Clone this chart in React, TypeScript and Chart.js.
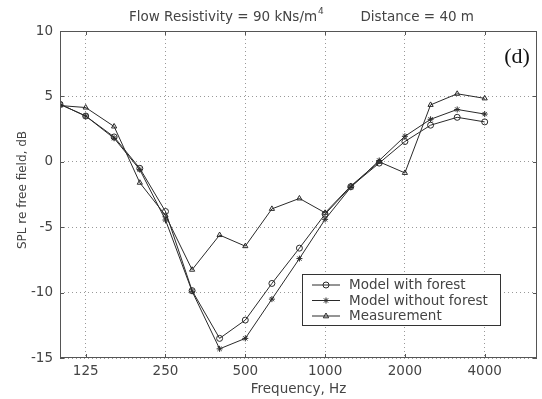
import React, { useEffect, useRef } from 'react';
import { Chart, registerables } from 'chart.js';

Chart.register(...registerables);

// ---- data ----
const frequencies = [100, 125, 160, 200, 250, 315, 400, 500, 630, 800, 1000, 1250, 1600, 2000, 2500, 3150, 4000];
const modelWithForest = [4.4, 3.5, 1.9, -0.5, -3.8, -9.85, -13.5, -12.1, -9.3, -6.6, -4.0, -1.9, -0.1, 1.55, 2.8, 3.4, 3.05];
const modelWithoutForest = [4.4, 3.5, 1.8, -0.6, -4.45, -9.9, -14.3, -13.5, -10.5, -7.4, -4.4, -1.95, 0.1, 1.95, 3.25, 4.0, 3.65];
const measurement = [4.3, 4.15, 2.7, -1.6, -4.1, -8.25, -5.6, -6.45, -3.6, -2.8, -3.9, -1.85, 0.0, -0.85, 4.35, 5.2, 4.85];
const xTicks = [125, 250, 500, 1000, 2000, 4000];
const yTicks = [-15, -10, -5, 0, 5, 10];
const seriesNames = ['Model with forest', 'Model without forest', 'Measurement'];
const markerStyles = ['circle', 'star', 'triangle'];
const titleMain = 'Flow Resistivity = 90 kNs/m';
const titleSup = '4';
const titleSecond = 'Distance = 40 m';
const xLabel = 'Frequency, Hz';
const yLabel = 'SPL re free field, dB';
const panelLabel = '(d)';

const FONT = '"DejaVu Sans", sans-serif';
const LINE = '#2a2a2a';
const TEXT = '#444';

function drawMarker(ctx: CanvasRenderingContext2D, style: string, x: number, y: number, r: number) {
  ctx.beginPath();
  if (style === 'circle') {
    ctx.arc(x, y, r, 0, Math.PI * 2);
    ctx.stroke();
  } else if (style === 'triangle') {
    ctx.moveTo(x, y - r);
    ctx.lineTo(x + r * 0.9, y + r * 0.6);
    ctx.lineTo(x - r * 0.9, y + r * 0.6);
    ctx.closePath();
    ctx.stroke();
  } else {
    for (let i = 0; i < 4; i++) {
      const ang = (i * Math.PI) / 4;
      ctx.moveTo(x - Math.cos(ang) * r, y - Math.sin(ang) * r);
      ctx.lineTo(x + Math.cos(ang) * r, y + Math.sin(ang) * r);
    }
    ctx.stroke();
  }
}

const decorPlugin = {
  id: 'decor',
  afterDraw(chart: any) {
    const { ctx, chartArea: a, scales } = chart;
    const xs = scales.x;
    const ys = scales.y;
    ctx.save();
    // axes box
    ctx.strokeStyle = '#555';
    ctx.lineWidth = 1;
    ctx.strokeRect(a.left + 0.5, a.top + 0.5, a.right - a.left - 1, a.bottom - a.top - 1);
    // inside tick marks
    ctx.beginPath();
    xTicks.forEach((v) => {
      const px = Math.round(xs.getPixelForValue(v)) + 0.5;
      ctx.moveTo(px, a.bottom);
      ctx.lineTo(px, a.bottom - 4);
      ctx.moveTo(px, a.top);
      ctx.lineTo(px, a.top + 4);
    });
    yTicks.forEach((v) => {
      const py = Math.round(ys.getPixelForValue(v)) + 0.5;
      ctx.moveTo(a.left, py);
      ctx.lineTo(a.left + 4, py);
      ctx.moveTo(a.right, py);
      ctx.lineTo(a.right - 4, py);
    });
    ctx.stroke();

    // title
    ctx.fillStyle = TEXT;
    ctx.textBaseline = 'middle';
    ctx.textAlign = 'left';
    ctx.font = `13.5px ${FONT}`;
    ctx.fillText(titleMain, 129, 17);
    const w = ctx.measureText(titleMain).width;
    ctx.font = `9px ${FONT}`;
    ctx.fillText(titleSup, 129 + w + 1, 12);
    ctx.font = `13.5px ${FONT}`;
    ctx.textAlign = 'right';
    ctx.fillText(titleSecond, 474, 17);

    // x label
    ctx.textAlign = 'center';
    ctx.font = `13.5px ${FONT}`;
    ctx.fillText(xLabel, (a.left + a.right) / 2, 389);

    // y label
    ctx.save();
    ctx.translate(23, 190);
    ctx.rotate(-Math.PI / 2);
    ctx.font = `12px ${FONT}`;
    ctx.fillText(yLabel, 0, 0);
    ctx.restore();

    // panel label
    ctx.font = `22px "Liberation Serif", "DejaVu Serif", serif`;
    ctx.fillStyle = '#111';
    ctx.textAlign = 'center';
    ctx.fillText(panelLabel, 517, 57);

    // legend
    const lx = 302, ly = 274, lw = 199, lh = 52;
    ctx.fillStyle = '#fff';
    ctx.fillRect(lx, ly, lw, lh);
    ctx.strokeStyle = '#333';
    ctx.strokeRect(lx + 0.5, ly + 0.5, lw - 1, lh - 1);
    const rows = [284.5, 300, 315.5];
    ctx.font = `13.5px ${FONT}`;
    ctx.textAlign = 'left';
    seriesNames.forEach((name, i) => {
      const ry = rows[i];
      ctx.strokeStyle = LINE;
      ctx.lineWidth = 1;
      ctx.beginPath();
      ctx.moveTo(312, ry + 0.5);
      ctx.lineTo(340, ry + 0.5);
      ctx.stroke();
      drawMarker(ctx, markerStyles[i], 326, ry + 0.5, 3);
      ctx.fillStyle = TEXT;
      ctx.fillText(name, 349, ry + 1);
    });
    ctx.restore();
  },
};

export default function App() {
  const ref = useRef<HTMLCanvasElement>(null);
  useEffect(() => {
    document.body.style.margin = '0';
    const seriesData = [modelWithForest, modelWithoutForest, measurement];
    const chart = new Chart(ref.current as HTMLCanvasElement, {
      type: 'line',
      data: {
        datasets: seriesNames.map((name, i) => ({
          label: name,
          data: frequencies.map((f, j) => ({ x: f, y: seriesData[i][j] })),
          borderColor: LINE,
          borderWidth: 1,
          pointStyle: markerStyles[i] as any,
          pointRadius: 3,
          pointBorderColor: LINE,
          pointBorderWidth: 1,
          pointBackgroundColor: 'rgba(255,255,255,0)',
          tension: 0,
          fill: false,
        })),
      },
      options: {
        responsive: false,
        devicePixelRatio: 1,
        animation: false,
        layout: { padding: { top: 31, left: 0, right: 1, bottom: 0 } },
        plugins: {
          legend: { display: false },
          title: { display: false },
          tooltip: { enabled: false },
        },
        scales: {
          x: {
            type: 'logarithmic',
            min: 100,
            max: 6300,
            afterBuildTicks: (scale: any) => {
              scale.ticks = xTicks.map((v) => ({ value: v }));
            },
            afterFit: (scale: any) => {
              scale.height = 41;
            },
            ticks: {
              autoSkip: false,
              maxRotation: 0,
              padding: 5,
              color: TEXT,
              font: { family: FONT, size: 13.5 },
              callback: (v: any) => String(v),
            },
            grid: { color: '#999', lineWidth: 1, drawTicks: false },
            border: { display: false, dash: [1, 3] },
          },
          y: {
            type: 'linear',
            min: -15,
            max: 10,
            afterBuildTicks: (scale: any) => {
              scale.ticks = yTicks.map((v) => ({ value: v }));
            },
            afterFit: (scale: any) => {
              scale.width = 60;
            },
            ticks: {
              padding: 7,
              color: TEXT,
              font: { family: FONT, size: 13.5 },
              callback: (v: any) => String(v),
            },
            grid: { color: '#999', lineWidth: 1, drawTicks: false },
            border: { display: false, dash: [1, 3] },
          },
        },
      },
      plugins: [decorPlugin],
    });
    return () => chart.destroy();
  }, []);
  return (
    <div style={{ width: 542, height: 399 }}>
      <canvas ref={ref} width={542} height={399} style={{ display: 'block' }} />
    </div>
  );
}
